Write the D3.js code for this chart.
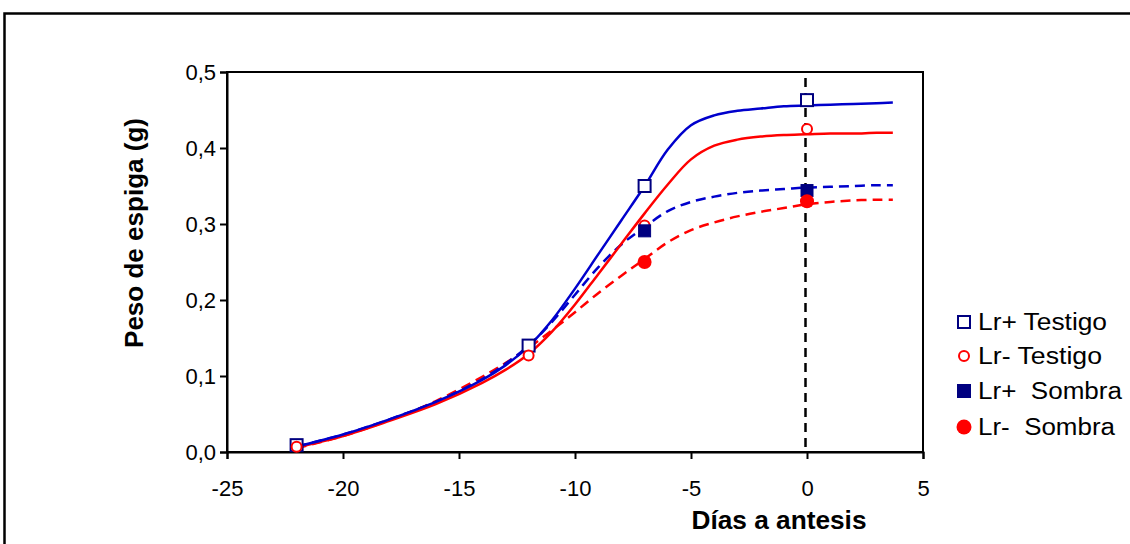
<!DOCTYPE html>
<html><head><meta charset="utf-8">
<script src="https://cdn.jsdelivr.net/npm/d3@7"></script>
<style>
html,body{margin:0;padding:0;background:#fff;}
svg{display:block;font-family:"Liberation Sans",Arial,sans-serif;}
</style></head>
<body><svg id="chart" width="1130" height="544"></svg>
<script>
// ---- data ----
const xTicks = [-25, -20, -15, -10, -5, 0, 5];
const yTicks = [0, 0.1, 0.2, 0.3, 0.4, 0.5];
const seriesNames = ["Lr+ Testigo", "Lr- Testigo", "Lr+  Sombra", "Lr-  Sombra"];

// observed points
const obsX_testigo = [-22, -12, -7, 0];
const obsLrPlusTestigo = [0.009, 0.140, 0.350, 0.463];
const obsLrMinusTestigo = [0.007, 0.127, 0.298, 0.425];
const obsX_sombra = [-7, 0];
const obsLrPlusSombra = [0.291, 0.344];
const obsLrMinusSombra = [0.250, 0.330];

// fitted curves
const fitX = [-22, -20, -18, -16, -14, -13, -12, -11, -10, -9, -8, -7, -6, -5, -4, -3, -2, -1, 0, 1, 2, 3, 3.7];
const fitLrPlusTestigo  = [0.007, 0.023, 0.043, 0.066, 0.095, 0.114, 0.139, 0.173, 0.215, 0.260, 0.305, 0.350, 0.398, 0.430, 0.443, 0.449, 0.452, 0.455, 0.456, 0.457, 0.458, 0.459, 0.460];
const fitLrMinusTestigo = [0.006, 0.021, 0.041, 0.063, 0.091, 0.108, 0.129, 0.158, 0.194, 0.234, 0.274, 0.314, 0.352, 0.385, 0.403, 0.411, 0.415, 0.417, 0.418, 0.419, 0.419, 0.420, 0.420];
const fitLrPlusSombra   = [0.007, 0.023, 0.043, 0.066, 0.096, 0.116, 0.140, 0.171, 0.207, 0.243, 0.273, 0.296, 0.317, 0.329, 0.336, 0.341, 0.344, 0.346, 0.348, 0.349, 0.350, 0.351, 0.351];
const fitLrMinusSombra  = [0.005, 0.021, 0.042, 0.067, 0.099, 0.117, 0.137, 0.160, 0.184, 0.209, 0.232, 0.254, 0.276, 0.292, 0.302, 0.310, 0.316, 0.321, 0.326, 0.329, 0.331, 0.332, 0.332];

const svg = d3.select("#chart");
const L = 227, R = 923, T = 72, B = 452;
const x = d3.scaleLinear().domain([-25, 5]).range([L, R]);
const y = d3.scaleLinear().domain([0, 0.5]).range([B, T]);

// outer frame
svg.append("rect").attr("x", 4.5).attr("y", 13.5).attr("width", 1200).attr("height", 700)
  .attr("fill", "none").attr("stroke", "#000").attr("stroke-width", 2.5);

// plot frame
svg.append("rect").attr("x", L).attr("y", T).attr("width", R - L).attr("height", B - T)
  .attr("fill", "none").attr("stroke", "#000").attr("stroke-width", 2);

// axes
const fmtY = d => d3.format(".1f")(d).replace(".", ",");
const fmtX = d => String(d);
const xAxis = svg.append("g").attr("transform", `translate(0,${B})`)
  .call(d3.axisBottom(x).tickValues(xTicks).tickSize(7).tickPadding(21).tickFormat(fmtX));
const yAxis = svg.append("g").attr("transform", `translate(${L},0)`)
  .call(d3.axisLeft(y).tickValues(yTicks).tickSize(7).tickPadding(4).tickFormat(fmtY));
[xAxis, yAxis].forEach(a => {
  a.select(".domain").attr("stroke", "#000").attr("stroke-width", 2);
  a.selectAll(".tick line").attr("stroke", "#000").attr("stroke-width", 2);
  a.selectAll(".tick text").attr("fill", "#000").style("font-size", "22px")
    .style("font-family", '"Liberation Sans", Arial, sans-serif');
});
xAxis.selectAll(".tick text").attr("dy", "0.71em");
yAxis.selectAll(".tick text").attr("dy", "0.36em");

// axis titles
svg.append("text").attr("x", 779).attr("y", 529).attr("text-anchor", "middle")
  .attr("textLength", 175).attr("lengthAdjust", "spacingAndGlyphs")
  .style("font-size", "25px").style("font-weight", "bold").text("Días a antesis");
svg.append("text").attr("transform", "translate(143,233) rotate(-90)").attr("text-anchor", "middle")
  .attr("textLength", 230).attr("lengthAdjust", "spacingAndGlyphs")
  .style("font-size", "25px").style("font-weight", "bold").text("Peso de espiga (g)");

// vertical dashed line at antesis
svg.append("line").attr("x1", x(0) - 1.5).attr("x2", x(0) - 1.5).attr("y1", T + 6).attr("y2", B)
  .attr("stroke", "#000").attr("stroke-width", 2.5).attr("stroke-dasharray", "9,6");

// curves
const line = d3.line().x(d => x(d[0])).y(d => y(d[1])).curve(d3.curveCatmullRom.alpha(0.5));
const curves = [
  {v: fitLrMinusSombra, c: "#FF0000", dash: "10,6"},
  {v: fitLrPlusSombra, c: "#0000CC", dash: "10,6"},
  {v: fitLrMinusTestigo, c: "#FF0000", dash: null},
  {v: fitLrPlusTestigo, c: "#0000CC", dash: null}
];
curves.forEach(s => {
  svg.append("path").datum(fitX.map((xx, i) => [xx, s.v[i]]))
    .attr("d", line).attr("fill", "none").attr("stroke", s.c).attr("stroke-width", 2.5)
    .attr("stroke-dasharray", s.dash);
});

// markers
const navy = "#000080", red = "#FF0000";
function openSquare(g, cx, cy, s) {
  g.append("rect").attr("x", cx - s / 2).attr("y", cy - s / 2).attr("width", s).attr("height", s)
    .attr("fill", "#fff").attr("stroke", navy).attr("stroke-width", 2);
}
function openCircle(g, cx, cy, r) {
  g.append("circle").attr("cx", cx).attr("cy", cy).attr("r", r)
    .attr("fill", "#fff").attr("stroke", red).attr("stroke-width", 2);
}
function fillSquare(g, cx, cy, s) {
  g.append("rect").attr("x", cx - s / 2).attr("y", cy - s / 2).attr("width", s).attr("height", s)
    .attr("fill", navy).attr("stroke", navy).attr("stroke-width", 1);
}
function fillCircle(g, cx, cy, r) {
  g.append("circle").attr("cx", cx).attr("cy", cy).attr("r", r).attr("fill", red);
}
const mk = svg.append("g");
obsX_testigo.forEach((xx, i) => openSquare(mk, x(xx), y(obsLrPlusTestigo[i]), 12));
obsX_testigo.forEach((xx, i) => openCircle(mk, x(xx), y(obsLrMinusTestigo[i]), 5));
obsX_sombra.forEach((xx, i) => fillSquare(mk, x(xx), y(obsLrPlusSombra[i]), 12));
obsX_sombra.forEach((xx, i) => fillCircle(mk, x(xx), y(obsLrMinusSombra[i]), 7));

// legend
const legY = [322, 356, 391, 427];
const legW = [129, 124, 144, 137];
const lg = svg.append("g");
openSquare(lg, 964, legY[0], 12);
openCircle(lg, 964, legY[1], 5);
fillSquare(lg, 964, legY[2], 13);
fillCircle(lg, 964, legY[3], 7.5);
seriesNames.forEach((n, i) => {
  lg.append("text").attr("x", 978).attr("y", legY[i]).attr("dy", "0.36em")
    .attr("textLength", legW[i]).attr("lengthAdjust", "spacingAndGlyphs")
    .style("font-size", "23px").style("white-space", "pre").attr("xml:space", "preserve").text(n);
});
</script>
</body></html>
